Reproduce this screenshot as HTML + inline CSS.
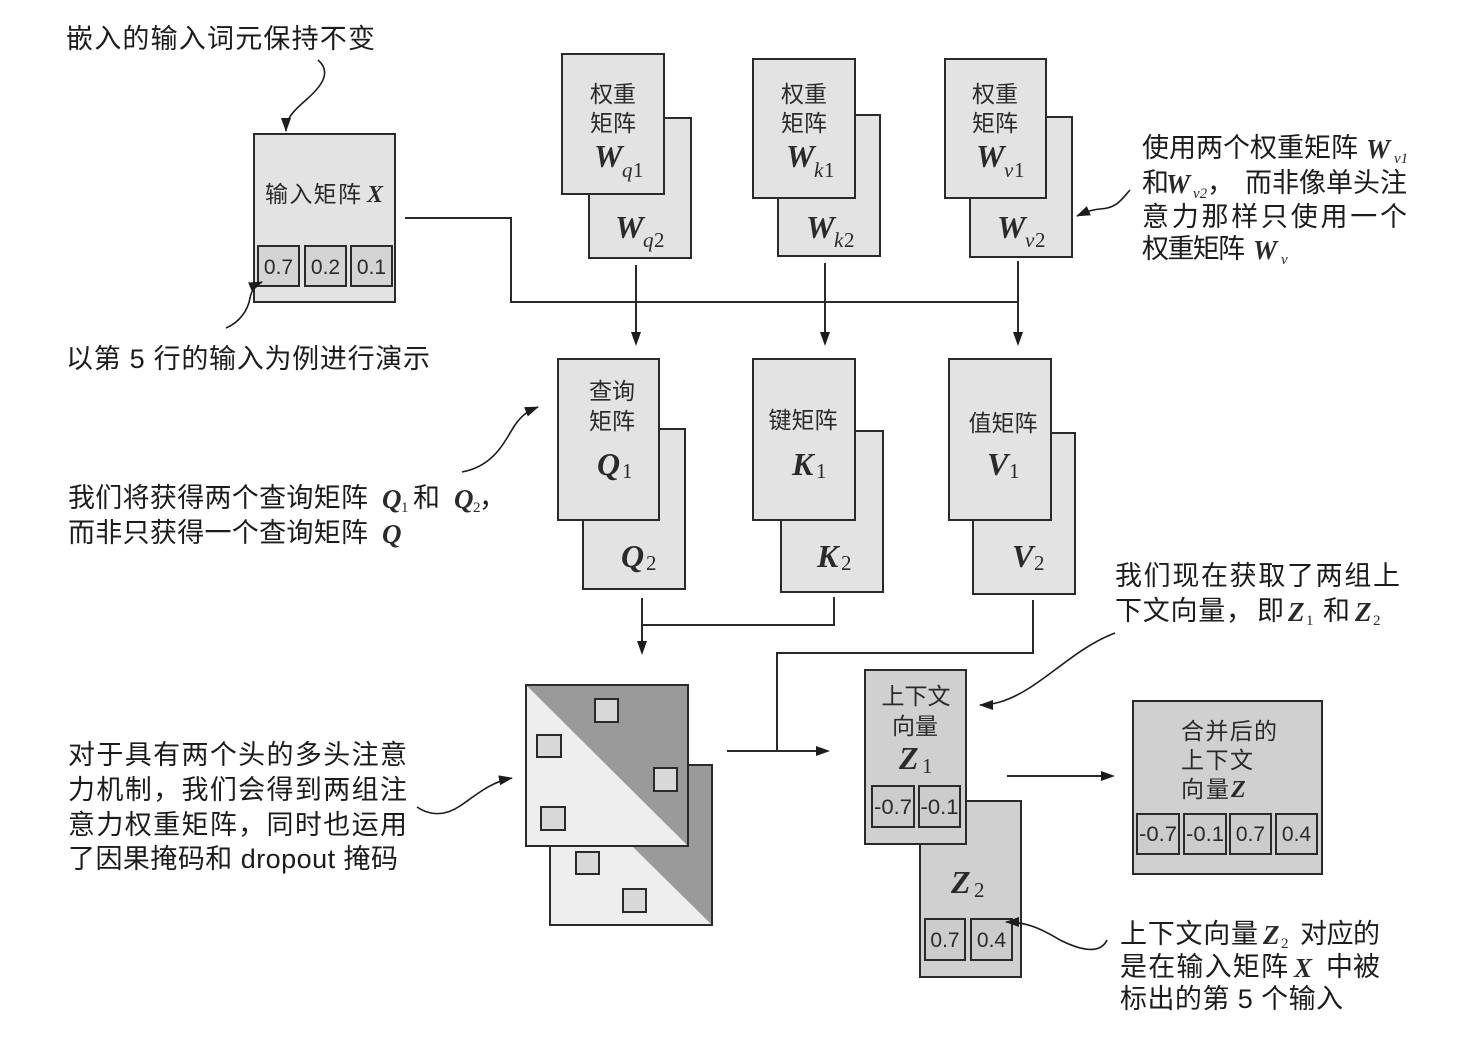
<!DOCTYPE html>
<html><head><meta charset="utf-8"><style>
html,body{margin:0;padding:0;background:#fff;}
svg{display:block;}
.a{font-family:"Liberation Sans","Noto Sans CJK SC",sans-serif;font-size:27px;fill:#1c1c1c;}
.b{font-family:"Liberation Sans","Noto Sans CJK SC",sans-serif;font-size:23px;fill:#2a2a2a;}
.m{font-family:"Liberation Serif",serif;font-style:italic;font-weight:bold;fill:#2a2a2a;}
.mi{font-family:"Liberation Serif",serif;font-style:italic;fill:#2a2a2a;}
.s{font-family:"Liberation Serif",serif;fill:#2a2a2a;}
.n{font-family:"Liberation Sans",sans-serif;font-size:21px;fill:#2a2a2a;}
</style></head><body>
<svg width="1474" height="1040" viewBox="0 0 1474 1040" xmlns="http://www.w3.org/2000/svg">
<defs>
<marker id="ah" viewBox="0 0 14 10" refX="13" refY="5" markerWidth="14" markerHeight="10" markerUnits="userSpaceOnUse" orient="auto">
<path d="M0,0 L14,5 L0,10 z" fill="#1c1c1c"/>
</marker>
</defs>
<rect width="1474" height="1040" fill="#ffffff"/>

<!-- Top-left annotation -->
<text class="a" x="66" y="48" textLength="309" lengthAdjust="spacing">嵌入的输入词元保持不变</text>
<path d="M318,60 C332,72 322,86 306,100 C292,112 286,119 286,131" fill="none" stroke="#1c1c1c" stroke-width="1.6" marker-end="url(#ah)"/>

<!-- Input matrix X -->
<rect x="254" y="134" width="141" height="168" fill="#e3e3e3" stroke="#2a2a2a" stroke-width="2"/>
<text class="b" x="265" y="202" textLength="96" lengthAdjust="spacing">输入矩阵</text>
<text class="m" x="367" y="202" font-size="24">X</text>
<rect x="258" y="246" width="41" height="40" fill="#d4d4d4" stroke="#2a2a2a" stroke-width="2"/>
<rect x="305" y="246" width="41" height="40" fill="#d4d4d4" stroke="#2a2a2a" stroke-width="2"/>
<rect x="351" y="246" width="41" height="40" fill="#d4d4d4" stroke="#2a2a2a" stroke-width="2"/>
<text class="n" x="278.5" y="274" text-anchor="middle">0.7</text>
<text class="n" x="325.5" y="274" text-anchor="middle">0.2</text>
<text class="n" x="371.5" y="274" text-anchor="middle">0.1</text>

<path d="M226,328 C240,322 248,310 250,298 C252,289 255,285 262,282" fill="none" stroke="#1c1c1c" stroke-width="1.6" marker-end="url(#ah)"/>
<text class="a" x="66" y="368" textLength="364" lengthAdjust="spacing">以第 5 行的输入为例进行演示</text>

<!-- Connector from X -->
<polyline points="405,218 511,218 511,302 1018,302" fill="none" stroke="#2a2a2a" stroke-width="2"/>

<!-- W_q -->
<rect x="589" y="118" width="102" height="140" fill="#e3e3e3" stroke="#2a2a2a" stroke-width="2"/>
<rect x="562" y="54" width="102" height="140" fill="#e3e3e3" stroke="#2a2a2a" stroke-width="2"/>
<text class="b" x="613" y="102" text-anchor="middle">权重</text>
<text class="b" x="613" y="131" text-anchor="middle">矩阵</text>
<text class="m" x="594" y="167" font-size="32">W</text>
<text class="mi" x="622" y="177" font-size="21">q</text><text class="s" x="633" y="177" font-size="21">1</text>
<text class="m" x="615" y="238" font-size="32">W</text>
<text class="mi" x="643" y="247" font-size="21">q</text><text class="s" x="654" y="247" font-size="21">2</text>

<!-- W_k -->
<rect x="778" y="115" width="102" height="141" fill="#e3e3e3" stroke="#2a2a2a" stroke-width="2"/>
<rect x="753" y="59" width="102" height="139" fill="#e3e3e3" stroke="#2a2a2a" stroke-width="2"/>
<text class="b" x="804" y="102" text-anchor="middle">权重</text>
<text class="b" x="804" y="131" text-anchor="middle">矩阵</text>
<text class="m" x="786" y="167" font-size="32">W</text>
<text class="mi" x="814" y="177" font-size="21">k</text><text class="s" x="824" y="177" font-size="21">1</text>
<text class="m" x="806" y="238" font-size="32">W</text>
<text class="mi" x="834" y="247" font-size="21">k</text><text class="s" x="844" y="247" font-size="21">2</text>

<!-- W_v -->
<rect x="970" y="117" width="102" height="140" fill="#e3e3e3" stroke="#2a2a2a" stroke-width="2"/>
<rect x="945" y="59" width="101" height="139" fill="#e3e3e3" stroke="#2a2a2a" stroke-width="2"/>
<text class="b" x="995" y="102" text-anchor="middle">权重</text>
<text class="b" x="995" y="131" text-anchor="middle">矩阵</text>
<text class="m" x="976" y="167" font-size="32">W</text>
<text class="mi" x="1004" y="177" font-size="21">v</text><text class="s" x="1014" y="177" font-size="21">1</text>
<text class="m" x="997" y="238" font-size="32">W</text>
<text class="mi" x="1025" y="247" font-size="21">v</text><text class="s" x="1035" y="247" font-size="21">2</text>

<!-- W_v annotation -->
<text class="a" x="1142" y="157" textLength="216" lengthAdjust="spacing">使用两个权重矩阵</text>
<text class="m" x="1366" y="158" font-size="27">W</text>
<text class="mi" x="1394" y="163" font-size="15">v1</text>
<text class="a" x="1142" y="192">和</text>
<text class="m" x="1166" y="193" font-size="27">W</text>
<text class="mi" x="1193" y="198" font-size="15">v2</text>
<text class="a" x="1207" y="192">，</text>
<text class="a" x="1245" y="192" textLength="162" lengthAdjust="spacing">而非像单头注</text>
<text class="a" x="1142" y="226" textLength="265" lengthAdjust="spacing">意力那样只使用一个</text>
<text class="a" x="1142" y="258" textLength="103" lengthAdjust="spacing">权重矩阵</text>
<text class="m" x="1253" y="259" font-size="27">W</text>
<text class="mi" x="1281" y="264" font-size="15">v</text>
<path d="M1130,190 C1121,200 1117,208 1100,209 C1090,210 1086,212 1077,216" fill="none" stroke="#1c1c1c" stroke-width="1.6" marker-end="url(#ah)"/>

<!-- Down arrows to Q K V -->
<line x1="636" y1="265" x2="636" y2="334" stroke="#2a2a2a" stroke-width="2"/>
<polygon points="631,332 641,332 636,346" fill="#1c1c1c"/>
<line x1="825" y1="263" x2="825" y2="334" stroke="#2a2a2a" stroke-width="2"/>
<polygon points="820,332 830,332 825,346" fill="#1c1c1c"/>
<line x1="1018" y1="261" x2="1018" y2="334" stroke="#2a2a2a" stroke-width="2"/>
<polygon points="1013,332 1023,332 1018,346" fill="#1c1c1c"/>

<!-- Q -->
<rect x="583" y="429" width="102" height="160" fill="#e3e3e3" stroke="#2a2a2a" stroke-width="2"/>
<rect x="558" y="359" width="101" height="161" fill="#e3e3e3" stroke="#2a2a2a" stroke-width="2"/>
<text class="b" x="612" y="399" text-anchor="middle">查询</text>
<text class="b" x="612" y="429" text-anchor="middle">矩阵</text>
<text class="m" x="597" y="475" font-size="32">Q</text>
<text class="s" x="622" y="478" font-size="21">1</text>
<text class="m" x="621" y="567" font-size="32">Q</text>
<text class="s" x="646" y="570" font-size="21">2</text>

<!-- K -->
<rect x="781" y="431" width="102" height="161" fill="#e3e3e3" stroke="#2a2a2a" stroke-width="2"/>
<rect x="753" y="359" width="102" height="161" fill="#e3e3e3" stroke="#2a2a2a" stroke-width="2"/>
<text class="b" x="803" y="428" text-anchor="middle">键矩阵</text>
<text class="m" x="792" y="475" font-size="32">K</text>
<text class="s" x="816" y="478" font-size="21">1</text>
<text class="m" x="817" y="567" font-size="32">K</text>
<text class="s" x="841" y="570" font-size="21">2</text>

<!-- V -->
<rect x="973" y="433" width="102" height="161" fill="#e3e3e3" stroke="#2a2a2a" stroke-width="2"/>
<rect x="949" y="359" width="102" height="161" fill="#e3e3e3" stroke="#2a2a2a" stroke-width="2"/>
<text class="b" x="1003" y="431" text-anchor="middle">值矩阵</text>
<text class="m" x="987" y="475" font-size="32">V</text>
<text class="s" x="1009" y="478" font-size="21">1</text>
<text class="m" x="1012" y="567" font-size="32">V</text>
<text class="s" x="1034" y="570" font-size="21">2</text>

<!-- Q annotation -->
<text class="a" x="68" y="507" textLength="300" lengthAdjust="spacing">我们将获得两个查询矩阵</text>
<text class="m" x="382" y="508" font-size="27">Q</text>
<text class="s" x="401" y="512" font-size="15">1</text>
<text class="a" x="413" y="507">和</text>
<text class="m" x="454" y="508" font-size="27">Q</text>
<text class="s" x="473" y="512" font-size="15">2</text>
<text class="a" x="479" y="507">，</text>
<text class="a" x="68" y="542" textLength="300" lengthAdjust="spacing">而非只获得一个查询矩阵</text>
<text class="m" x="382" y="543" font-size="27">Q</text>
<path d="M462,472 C495,466 505,440 515,425 C522,415 528,411 538,407" fill="none" stroke="#1c1c1c" stroke-width="1.6" marker-end="url(#ah)"/>

<!-- Q/K to attention -->
<polyline points="834,597 834,625 642,625" fill="none" stroke="#2a2a2a" stroke-width="2"/>
<line x1="642" y1="598" x2="642" y2="643" stroke="#2a2a2a" stroke-width="2"/>
<polygon points="637,641 647,641 642,655" fill="#1c1c1c"/>

<!-- V to Z -->
<polyline points="1033,600 1033,653 777,653 777,751" fill="none" stroke="#2a2a2a" stroke-width="2"/>
<line x1="727" y1="751" x2="818" y2="751" stroke="#2a2a2a" stroke-width="2"/>
<polygon points="816,746 816,756 830,751" fill="#1c1c1c"/>

<!-- Attention matrices -->
<rect x="550" y="765" width="162" height="160" fill="#eeeeee" stroke="#2a2a2a" stroke-width="2"/>
<polygon points="550,765 712,765 712,925" fill="#9a9a9a"/>
<rect x="550" y="765" width="162" height="160" fill="none" stroke="#2a2a2a" stroke-width="2"/>
<rect x="576" y="852" width="23" height="22" fill="#d8d8d8" stroke="#2a2a2a" stroke-width="2"/>
<rect x="623" y="889" width="23" height="23" fill="#d8d8d8" stroke="#2a2a2a" stroke-width="2"/>

<rect x="526" y="685" width="162" height="161" fill="#eeeeee" stroke="#2a2a2a" stroke-width="2"/>
<polygon points="526,685 688,685 688,846" fill="#9a9a9a"/>
<rect x="526" y="685" width="162" height="161" fill="none" stroke="#2a2a2a" stroke-width="2"/>
<rect x="595" y="699" width="23" height="23" fill="#d8d8d8" stroke="#2a2a2a" stroke-width="2"/>
<rect x="537" y="735" width="24" height="22" fill="#d8d8d8" stroke="#2a2a2a" stroke-width="2"/>
<rect x="654" y="768" width="23" height="23" fill="#d8d8d8" stroke="#2a2a2a" stroke-width="2"/>
<rect x="541" y="807" width="24" height="23" fill="#d8d8d8" stroke="#2a2a2a" stroke-width="2"/>

<!-- Left-bottom annotation -->
<text class="a" x="68" y="764" textLength="339" lengthAdjust="spacing">对于具有两个头的多头注意</text>
<text class="a" x="68" y="799" textLength="339" lengthAdjust="spacing">力机制，我们会得到两组注</text>
<text class="a" x="68" y="834" textLength="339" lengthAdjust="spacing">意力权重矩阵，同时也运用</text>
<text class="a" x="68" y="868" textLength="330" lengthAdjust="spacing">了因果掩码和 dropout 掩码</text>
<path d="M417,807 C430,816 445,816 460,806 C475,796 490,782 512,778" fill="none" stroke="#1c1c1c" stroke-width="1.6" marker-end="url(#ah)"/>

<!-- Z boxes -->
<rect x="920" y="801" width="101" height="176" fill="#d0d0d0" stroke="#2a2a2a" stroke-width="2"/>
<text class="m" x="951" y="893" font-size="32">Z</text>
<text class="s" x="974" y="897" font-size="21">2</text>
<rect x="925" y="919" width="40" height="41" fill="#cccccc" stroke="#2a2a2a" stroke-width="2"/>
<rect x="971" y="919" width="41" height="41" fill="#cccccc" stroke="#2a2a2a" stroke-width="2"/>
<text class="n" x="945" y="947" text-anchor="middle" font-size="20">0.7</text>
<text class="n" x="991.5" y="947" text-anchor="middle" font-size="20">0.4</text>

<rect x="865" y="670" width="101" height="174" fill="#d0d0d0" stroke="#2a2a2a" stroke-width="2"/>
<text class="b" x="916" y="704" text-anchor="middle">上下文</text>
<text class="b" x="915" y="734" text-anchor="middle">向量</text>
<text class="m" x="899" y="769" font-size="32">Z</text>
<text class="s" x="922" y="773" font-size="21">1</text>
<rect x="872" y="786" width="42" height="41" fill="#cccccc" stroke="#2a2a2a" stroke-width="2"/>
<rect x="919" y="786" width="41" height="41" fill="#cccccc" stroke="#2a2a2a" stroke-width="2"/>
<text class="n" x="893" y="814" text-anchor="middle" font-size="19" textLength="38" lengthAdjust="spacingAndGlyphs">-0.7</text>
<text class="n" x="939.5" y="814" text-anchor="middle" font-size="19" textLength="38" lengthAdjust="spacingAndGlyphs">-0.1</text>

<!-- Z annotation -->
<text class="a" x="1115" y="585" textLength="285" lengthAdjust="spacing">我们现在获取了两组上</text>
<text class="a" x="1115" y="620" textLength="138" lengthAdjust="spacing">下文向量，</text>
<text class="a" x="1257" y="620">即</text>
<text class="m" x="1288" y="621" font-size="27">Z</text>
<text class="s" x="1306" y="625" font-size="15">1</text>
<text class="a" x="1323" y="620">和</text>
<text class="m" x="1355" y="621" font-size="27">Z</text>
<text class="s" x="1373" y="625" font-size="15">2</text>
<path d="M1115,633 C1070,650 1040,690 1000,702 C993,704 988,705 980,705" fill="none" stroke="#1c1c1c" stroke-width="1.6" marker-end="url(#ah)"/>

<!-- Arrow to merged -->
<line x1="1007" y1="776" x2="1103" y2="776" stroke="#2a2a2a" stroke-width="2"/>
<polygon points="1101,771 1101,781 1115,776" fill="#1c1c1c"/>

<!-- Merged Z -->
<rect x="1133" y="701" width="189" height="173" fill="#d0d0d0" stroke="#2a2a2a" stroke-width="2"/>
<text class="b" x="1181" y="739" textLength="96" lengthAdjust="spacing">合并后的</text>
<text class="b" x="1181" y="768" textLength="72" lengthAdjust="spacing">上下文</text>
<text class="b" x="1181" y="797" textLength="48" lengthAdjust="spacing">向量</text>
<text class="m" x="1231" y="797" font-size="24">Z</text>
<rect x="1137" y="814" width="42" height="40" fill="#cccccc" stroke="#2a2a2a" stroke-width="2"/>
<rect x="1184" y="814" width="42" height="40" fill="#cccccc" stroke="#2a2a2a" stroke-width="2"/>
<rect x="1230" y="814" width="41" height="40" fill="#cccccc" stroke="#2a2a2a" stroke-width="2"/>
<rect x="1276" y="814" width="41" height="40" fill="#cccccc" stroke="#2a2a2a" stroke-width="2"/>
<text class="n" x="1158" y="841" text-anchor="middle" font-size="19" textLength="38" lengthAdjust="spacingAndGlyphs">-0.7</text>
<text class="n" x="1205" y="841" text-anchor="middle" font-size="19" textLength="38" lengthAdjust="spacingAndGlyphs">-0.1</text>
<text class="n" x="1250.5" y="841" text-anchor="middle" font-size="20">0.7</text>
<text class="n" x="1296.5" y="841" text-anchor="middle" font-size="20">0.4</text>

<!-- Bottom-right annotation -->
<text class="a" x="1120" y="943" textLength="138" lengthAdjust="spacing">上下文向量</text>
<text class="m" x="1263" y="944" font-size="27">Z</text>
<text class="s" x="1281" y="948" font-size="15">2</text>
<text class="a" x="1300" y="943" textLength="80" lengthAdjust="spacing">对应的</text>
<text class="a" x="1120" y="976" textLength="168" lengthAdjust="spacing">是在输入矩阵</text>
<text class="m" x="1294" y="977" font-size="27">X</text>
<text class="a" x="1326" y="976" textLength="54" lengthAdjust="spacing">中被</text>
<text class="a" x="1120" y="1008" textLength="223" lengthAdjust="spacing">标出的第 5 个输入</text>
<path d="M1107,940 C1100,955 1080,950 1060,940 C1040,928 1026,922 1006,922" fill="none" stroke="#1c1c1c" stroke-width="1.6" marker-end="url(#ah)"/>
</svg>
</body></html>
